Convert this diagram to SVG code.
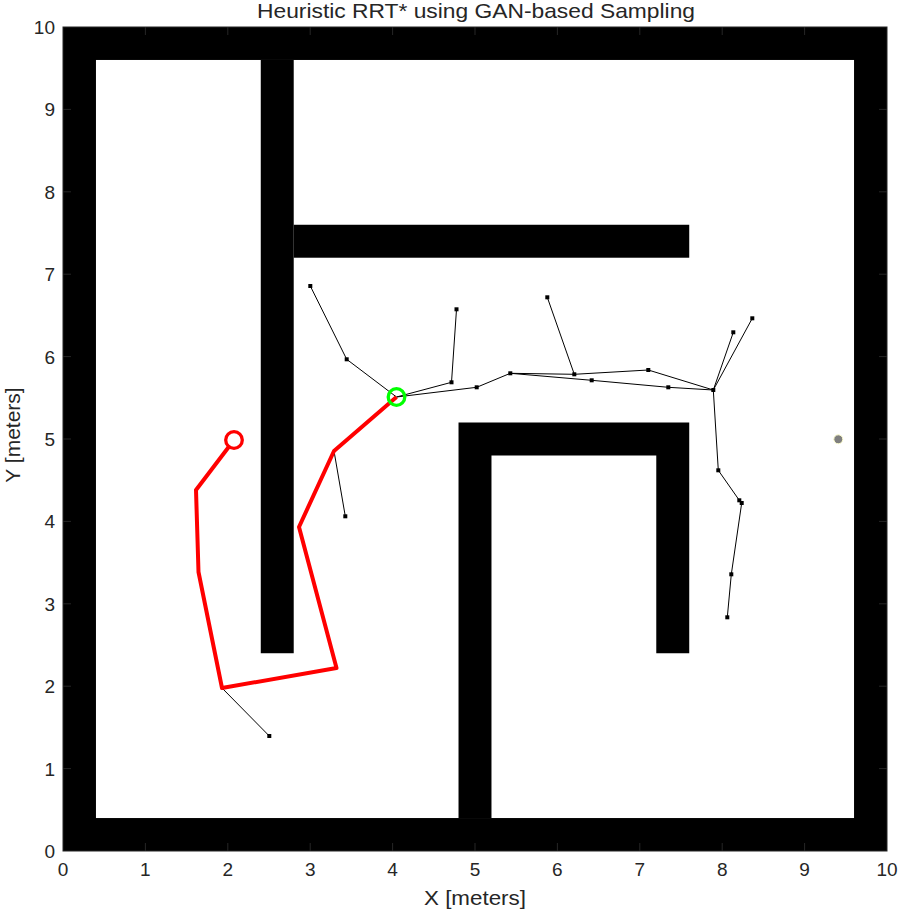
<svg xmlns="http://www.w3.org/2000/svg" width="901" height="912" viewBox="0 0 901 912">
<style>
.wall{fill:#000}
.tk{stroke:#262626;stroke-width:1;fill:none}
.tl{font-family:"Liberation Sans",Arial,sans-serif;font-size:19px;fill:#262626}
.lab{font-family:"Liberation Sans",Arial,sans-serif;font-size:21px;fill:#262626}
.edge{stroke:#000;stroke-width:1;fill:none}
.nd{fill:#000}
.path{stroke:#ff0000;stroke-width:4;fill:none;stroke-linejoin:round}
</style>
<rect x="0" y="0" width="901" height="912" fill="#fff"/>
<g id="walls">
<rect class="wall" x="63" y="27" width="824" height="32.96"/>
<rect class="wall" x="63" y="818.04" width="824" height="32.96"/>
<rect class="wall" x="63" y="27" width="32.96" height="824"/>
<rect class="wall" x="854.04" y="27" width="32.96" height="824"/>
<rect class="wall" x="260.76" y="59.96" width="32.96" height="593.28"/>
<rect class="wall" x="293.72" y="224.76" width="395.52" height="32.96"/>
<path class="wall" d="M458.52,818.04V422.52H689.24V653.24H656.28V455.48H491.48V818.04Z"/>
</g>
<g id="connectors">
<polyline class="edge" points="310.3,286 346.7,359.3 396.5,397"/>
<polyline class="edge" points="456.5,309.3 451.5,382.3 396.5,397"/>
<polyline class="edge" points="396.5,397 476.7,387.3 510.3,373.3"/>
<polyline class="edge" points="510.3,373.3 574.3,374.3 648.3,370 713.3,390"/>
<polyline class="edge" points="547.3,297.3 574.3,374.3"/>
<polyline class="edge" points="510.3,373.3 591.7,380.3 668.3,387.3 713.3,390"/>
<polyline class="edge" points="733.3,332.3 713.3,390 752.3,318.3"/>
<polyline class="edge" points="713.3,390 718.3,470.3 739.3,500.3 741.7,503 731.3,574.3 727.3,617.3"/>
<polyline class="edge" points="334,451 345.3,516.3"/>
<polyline class="edge" points="222,688 269.3,736"/>
</g>
<g id="tree-nodes">
<rect id="n1" class="nd" x="308.3" y="284" width="4" height="4"/>
<rect id="n2" class="nd" x="344.7" y="357.3" width="4" height="4"/>
<rect id="n3" class="nd" x="454.5" y="307.3" width="4" height="4"/>
<rect id="n4" class="nd" x="449.5" y="380.3" width="4" height="4"/>
<rect id="n5" class="nd" x="474.7" y="385.3" width="4" height="4"/>
<rect id="n6" class="nd" x="508.3" y="371.3" width="4" height="4"/>
<rect id="n7" class="nd" x="545.3" y="295.3" width="4" height="4"/>
<rect id="n8" class="nd" x="572.3" y="372.3" width="4" height="4"/>
<rect id="n9" class="nd" x="589.7" y="378.3" width="4" height="4"/>
<rect id="n10" class="nd" x="646.3" y="368" width="4" height="4"/>
<rect id="n11" class="nd" x="666.3" y="385.3" width="4" height="4"/>
<rect id="n12" class="nd" x="711.3" y="388" width="4" height="4"/>
<rect id="n13" class="nd" x="731.3" y="330.3" width="4" height="4"/>
<rect id="n14" class="nd" x="750.3" y="316.3" width="4" height="4"/>
<rect id="n15" class="nd" x="716.3" y="468.3" width="4" height="4"/>
<rect id="n16" class="nd" x="737.3" y="498.3" width="4" height="4"/>
<rect id="n17" class="nd" x="739.7" y="501" width="4" height="4"/>
<rect id="n18" class="nd" x="729.3" y="572.3" width="4" height="4"/>
<rect id="n19" class="nd" x="725.3" y="615.3" width="4" height="4"/>
<rect id="n20" class="nd" x="343.3" y="514.3" width="4" height="4"/>
<rect id="n21" class="nd" x="267.3" y="734" width="4" height="4"/>
</g>
<g id="path">
<polyline class="path" points="234,440 196,490 198.5,572 222,688 336.5,668 299,527 334,451 396.5,397"/>
</g>
<g id="goal"><circle cx="234" cy="440" r="8.3" fill="#fff" stroke="#ff0000" stroke-width="3.3"/></g>
<g id="start"><circle cx="396.5" cy="397" r="8.3" fill="none" stroke="#00ff00" stroke-width="3.3"/></g>
<g id="marker"><circle cx="838.3" cy="439.3" r="4.5" fill="#7f7f7f" stroke="#ffffd0" stroke-width="1"/></g>
<g id="axes">
<rect class="tk" x="63" y="27" width="824" height="824"/>
<path class="tk" d="M145.4,851v-8M227.8,851v-8M310.2,851v-8M392.6,851v-8M475,851v-8M557.4,851v-8M639.8,851v-8M722.2,851v-8M804.6,851v-8M145.4,27v8M227.8,27v8M310.2,27v8M392.6,27v8M475,27v8M557.4,27v8M639.8,27v8M722.2,27v8M804.6,27v8M63,768.6h8M63,686.2h8M63,603.8h8M63,521.4h8M63,439h8M63,356.6h8M63,274.2h8M63,191.8h8M63,109.4h8M887,768.6h-8M887,686.2h-8M887,603.8h-8M887,521.4h-8M887,439h-8M887,356.6h-8M887,274.2h-8M887,191.8h-8M887,109.4h-8"/>
<g class="tl" text-anchor="end">
<text x="55" y="858">0</text>
<text x="55" y="775.6">1</text>
<text x="55" y="693.2">2</text>
<text x="55" y="610.8">3</text>
<text x="55" y="528.4">4</text>
<text x="55" y="446">5</text>
<text x="55" y="363.6">6</text>
<text x="55" y="281.2">7</text>
<text x="55" y="198.8">8</text>
<text x="55" y="116.4">9</text>
<text x="55" y="34">10</text>
</g>
<g class="tl" text-anchor="middle">
<text x="63" y="876">0</text>
<text x="145.4" y="876">1</text>
<text x="227.8" y="876">2</text>
<text x="310.2" y="876">3</text>
<text x="392.6" y="876">4</text>
<text x="475" y="876">5</text>
<text x="557.4" y="876">6</text>
<text x="639.8" y="876">7</text>
<text x="722.2" y="876">8</text>
<text x="804.6" y="876">9</text>
<text x="887" y="876">10</text>
</g>
<text class="lab" x="475" y="905" text-anchor="middle" textLength="102" lengthAdjust="spacingAndGlyphs">X [meters]</text>
<text class="lab" transform="translate(20,435) rotate(-90)" text-anchor="middle">Y [meters]</text>
<text class="lab" x="476" y="17.5" text-anchor="middle" fill="#000" textLength="438" lengthAdjust="spacingAndGlyphs">Heuristic RRT* using GAN-based Sampling</text>
</g>
</svg>
